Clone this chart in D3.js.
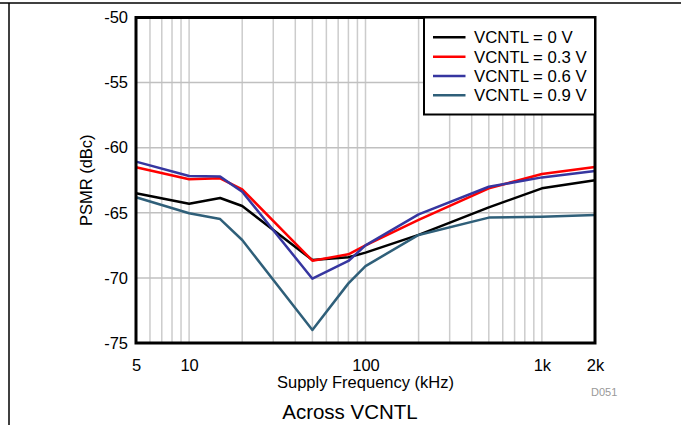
<!DOCTYPE html>
<html>
<head>
<meta charset="utf-8">
<script src="https://cdn.jsdelivr.net/npm/d3@7"></script>
<style>
  body { margin: 0; background: #fff; }
  svg { display: block; font-family: Arial, "Liberation Sans", sans-serif; }
</style>
</head>
<body>
<div id="chart"></div>
<script>
'use strict';

// data (kHz / dBc)
const freqs = [5, 10, 15, 20, 50, 80, 100, 200, 500, 1000, 2000];
const psmr0 = [-63.5, -64.3, -63.86, -64.48, -68.63, -68.42, -68.06, -66.7, -64.58, -63.12, -62.5];
const psmr03 = [-61.5, -62.43, -62.35, -63.2, -68.68, -68.19, -67.5, -65.55, -63.12, -62.02, -61.48];
const psmr06 = [-61.07, -62.17, -62.22, -63.38, -70.06, -68.7, -67.5, -65.12, -63.0, -62.28, -61.79];
const psmr09 = [-63.81, -65.04, -65.48, -67.09, -74.0, -70.42, -69.09, -66.7, -65.37, -65.3, -65.17];
const seriesNames = ['VCNTL = 0 V', 'VCNTL = 0.3 V', 'VCNTL = 0.6 V', 'VCNTL = 0.9 V'];
const seriesColors = ['#000000', '#ff0000', '#3636a0', '#2f5f79'];
const xTickValues = [5, 10, 100, 1000, 2000];
const xTickLabels = ['5', '10', '100', '1k', '2k'];
const yTickValues = [-50, -55, -60, -65, -70, -75];

const W = 681, H = 425;
const plot = {left: 136, top: 17.5, right: 595, bottom: 343};

const svg = d3.select('#chart').append('svg')
    .attr('width', W)
    .attr('height', H);

// outer frame (top rule + left rule)
svg.append('line').attr('x1', 0).attr('x2', W).attr('y1', 3).attr('y2', 3)
    .attr('stroke', '#000').attr('stroke-width', 1.5);
svg.append('line').attr('x1', 9).attr('x2', 9).attr('y1', 3).attr('y2', H)
    .attr('stroke', '#000').attr('stroke-width', 1.5);

const x = d3.scaleLog().domain([5, 2000]).range([plot.left, plot.right]);
const y = d3.scaleLinear().domain([-75, -50]).range([plot.bottom, plot.top]);

// grid
const minorX = [];
[1, 10, 100, 1000].forEach((dec) => {
  for (let k = 1; k <= 9; k++) {
    const v = k * dec;
    if (v > 5 && v < 2000) minorX.push(v);
  }
});
svg.append('g').selectAll('line')
    .data(minorX)
  .enter().append('line')
    .attr('x1', d => x(d)).attr('x2', d => x(d))
    .attr('y1', plot.top).attr('y2', plot.bottom)
    .attr('stroke', '#cccccc').attr('stroke-width', 1.5);

svg.append('g').selectAll('line')
    .data(yTickValues.slice(1, -1))
  .enter().append('line')
    .attr('x1', plot.left).attr('x2', plot.right)
    .attr('y1', d => y(d)).attr('y2', d => y(d))
    .attr('stroke', '#c0c0c0').attr('stroke-width', 1.5);

// series
const allSeries = [psmr0, psmr03, psmr06, psmr09];
const line = d3.line()
    .x((d, i) => x(freqs[i]))
    .y(d => y(d));

svg.append('g').selectAll('path')
    .data(allSeries)
  .enter().append('path')
    .attr('d', d => line(d))
    .attr('fill', 'none')
    .attr('stroke', (d, i) => seriesColors[i])
    .attr('stroke-width', 2.5)
    .attr('stroke-linejoin', 'round');

// plot border
svg.append('rect')
    .attr('x', plot.left).attr('y', plot.top)
    .attr('width', plot.right - plot.left).attr('height', plot.bottom - plot.top)
    .attr('fill', 'none').attr('stroke', '#000').attr('stroke-width', 3);

// axes
const xAxis = d3.axisBottom(x)
    .tickValues(xTickValues)
    .tickFormat((d, i) => xTickLabels[i])
    .tickSize(0).tickPadding(16);
svg.append('g')
    .attr('transform', 'translate(0,' + plot.bottom + ')')
    .call(xAxis)
    .call(g => g.select('.domain').remove())
    .selectAll('text')
    .attr('font-size', 16.5).attr('fill', '#000');

// plain hyphen minus, like the original
const yAxis = d3.axisLeft(y)
    .tickValues(yTickValues)
    .tickFormat(d => String(d))
    .tickSize(0).tickPadding(8);
svg.append('g')
    .attr('transform', 'translate(' + plot.left + ',0)')
    .call(yAxis)
    .call(g => g.select('.domain').remove())
    .selectAll('text')
    .attr('font-size', 16.5).attr('fill', '#000');

// axis titles
svg.append('text')
    .attr('x', (plot.left + plot.right) / 2).attr('y', 388)
    .attr('text-anchor', 'middle').attr('font-size', 16.5)
    .text('Supply Frequency (kHz)');

svg.append('text')
    .attr('transform', 'translate(92,' + (plot.top + plot.bottom) / 2 + ') rotate(-90)')
    .attr('text-anchor', 'middle').attr('font-size', 16.5)
    .text('PSMR (dBc)');

svg.append('text')
    .attr('x', 591).attr('y', 396)
    .attr('font-size', 11).attr('fill', '#999')
    .text('D051');

svg.append('text')
    .attr('x', 350).attr('y', 419)
    .attr('text-anchor', 'middle').attr('font-size', 20.5)
    .text('Across VCNTL');

// legend
const legend = svg.append('g');
legend.append('rect')
    .attr('x', 424).attr('y', 17.5)
    .attr('width', 171).attr('height', 97)
    .attr('fill', '#fff').attr('stroke', '#000').attr('stroke-width', 2);

const item = legend.selectAll('g.item')
    .data(seriesNames)
  .enter().append('g')
    .attr('class', 'item')
    .attr('transform', (d, i) => 'translate(0,' + (37.3 + i * 19.33) + ')');
item.append('line')
    .attr('x1', 433).attr('x2', 465.5)
    .attr('stroke', (d, i) => seriesColors[i]).attr('stroke-width', 2.5);
item.append('text')
    .attr('x', 474).attr('dy', '0.36em')
    .attr('font-size', 16.8)
    .text(d => d);
</script>
</body>
</html>
